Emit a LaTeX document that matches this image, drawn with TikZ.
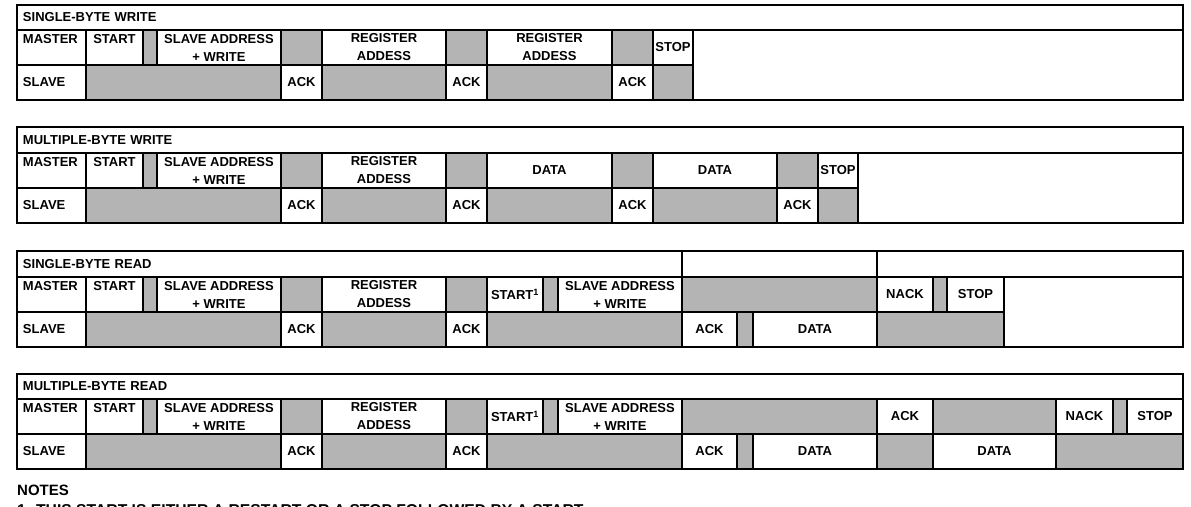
\documentclass[tikz,border=0pt]{standalone}
\usepackage{fontspec}
\setmainfont{Liberation Sans}
\usetikzlibrary{positioning}

\definecolor{idlegray}{RGB}{180,180,180}

% one row of bus cells: name, top y, bottom y, list of left/right/style/text
\newcommand{\busrow}[4]{%
  \foreach \xa/\xb/\sty/\txt [count=\i] in {#4} {
    \pgfmathsetlengthmacro\cw{(\xb-\xa)*1pt}
    \pgfmathsetlengthmacro\tw{(\xb-\xa-12)*1pt}
    \pgfmathsetlengthmacro\ch{(#3-#2)*1pt}
    \node[\sty, minimum width=\cw, minimum height=\ch]
      (#1-\i) at ({(\xa+\xb)/2},{-(#2+#3)/2}) {\txt};
  }%
}

\begin{document}
\begin{tikzpicture}[
            x = 1pt, y = 1pt, % one unit per pixel
            field/.style = {draw, fill=white, line width=1.9pt, inner sep=0pt,
                            outer sep=0pt, align=center,
                            font=\bfseries\fontsize{13}{18}\selectfont},
            idle/.style = {field, fill=idlegray}, % nobody drives the bus
            fieldup/.style = {field, text depth=18pt},
            who/.style = {field, text width=\tw, align=left},
            whoup/.style = {who, text depth=18pt},
            head/.style = {who, font=\bfseries\fontsize{13}{15}\selectfont},
            note/.style = {inner sep=0pt, font=\bfseries\fontsize{15}{18}\selectfont}
        ]

	\path[use as bounding box, fill=white] (0,0) rectangle (1191,-506);

	% single-byte write
	\busrow{sbw-h}{5}{30}{17/1183/head/SINGLE-BYTE WRITE}
	\busrow{sbw-m}{30}{65}{17/86/whoup/MASTER, 86/143/fieldup/START, 143/157/idle/{},
	  157/281/field/{SLAVE ADDRESS\\+ WRITE}, 281/322/idle/{}, 322/446/field/{REGISTER\\ADDESS},
	  446/487/idle/{}, 487/612/field/{REGISTER\\ADDESS}, 612/653/idle/{}, 653/693/field/STOP}
	\busrow{sbw-s}{65}{100}{17/86/who/SLAVE, 86/281/idle/{}, 281/322/field/ACK, 322/446/idle/{},
	  446/487/field/ACK, 487/612/idle/{}, 612/653/field/ACK, 653/693/idle/{}}
	\busrow{sbw-e}{30}{100}{693/1183/field/{}}

	% multiple-byte write
	\busrow{mbw-h}{127}{153}{17/1183/head/MULTIPLE-BYTE WRITE}
	\busrow{mbw-m}{153}{188}{17/86/whoup/MASTER, 86/143/fieldup/START, 143/157/idle/{},
	  157/281/field/{SLAVE ADDRESS\\+ WRITE}, 281/322/idle/{}, 322/446/field/{REGISTER\\ADDESS},
	  446/487/idle/{}, 487/612/field/DATA, 612/653/idle/{}, 653/777/field/DATA,
	  777/818/idle/{}, 818/858/field/STOP}
	\busrow{mbw-s}{188}{223}{17/86/who/SLAVE, 86/281/idle/{}, 281/322/field/ACK, 322/446/idle/{},
	  446/487/field/ACK, 487/612/idle/{}, 612/653/field/ACK, 653/777/idle/{},
	  777/818/field/ACK, 818/858/idle/{}}
	\busrow{mbw-e}{153}{223}{858/1183/field/{}}

	% single-byte read
	\busrow{sbr-h}{251}{277}{17/682/head/SINGLE-BYTE READ, 682/877/field/{}, 877/1183/field/{}}
	\busrow{sbr-m}{277}{312}{17/86/whoup/MASTER, 86/143/fieldup/START, 143/157/idle/{},
	  157/281/field/{SLAVE ADDRESS\\+ WRITE}, 281/322/idle/{}, 322/446/field/{REGISTER\\ADDESS},
	  446/487/idle/{}, 487/543/field/{START\textsuperscript{1}}, 543/558/idle/{},
	  558/682/field/{SLAVE ADDRESS\\+ WRITE}, 682/877/idle/{}, 877/933/field/NACK,
	  933/947/idle/{}, 947/1004/field/STOP}
	\busrow{sbr-s}{312}{347}{17/86/who/SLAVE, 86/281/idle/{}, 281/322/field/ACK, 322/446/idle/{},
	  446/487/field/ACK, 487/682/idle/{}, 682/737/field/ACK, 737/753/idle/{},
	  753/877/field/DATA, 877/1004/idle/{}}
	\busrow{sbr-e}{277}{347}{1004/1183/field/{}}

	% multiple-byte read
	\busrow{mbr-h}{374}{399}{17/1183/head/MULTIPLE-BYTE READ}
	\busrow{mbr-m}{399}{434}{17/86/whoup/MASTER, 86/143/fieldup/START, 143/157/idle/{},
	  157/281/field/{SLAVE ADDRESS\\+ WRITE}, 281/322/idle/{}, 322/446/field/{REGISTER\\ADDESS},
	  446/487/idle/{}, 487/543/field/{START\textsuperscript{1}}, 543/558/idle/{},
	  558/682/field/{SLAVE ADDRESS\\+ WRITE}, 682/877/idle/{}, 877/933/field/ACK,
	  933/1056/idle/{}, 1056/1113/field/NACK, 1113/1127/idle/{}, 1127/1183/field/STOP}
	\busrow{mbr-s}{434}{469}{17/86/who/SLAVE, 86/281/idle/{}, 281/322/field/ACK, 322/446/idle/{},
	  446/487/field/ACK, 487/682/idle/{}, 682/737/field/ACK, 737/753/idle/{},
	  753/877/field/DATA, 877/933/idle/{}, 933/1056/field/DATA, 1056/1183/idle/{}}

	% notes
	\node[note, anchor=base west] (notes) at (17,-495) {NOTES};
	\node[note, font=\bfseries\fontsize{15.7}{18}\selectfont] (note1)
	  [below right=8.5pt and 0pt of notes.south west]
	  {1. THIS START IS EITHER A RESTART OR A STOP FOLLOWED BY A START.};

\end{tikzpicture}
\end{document}
